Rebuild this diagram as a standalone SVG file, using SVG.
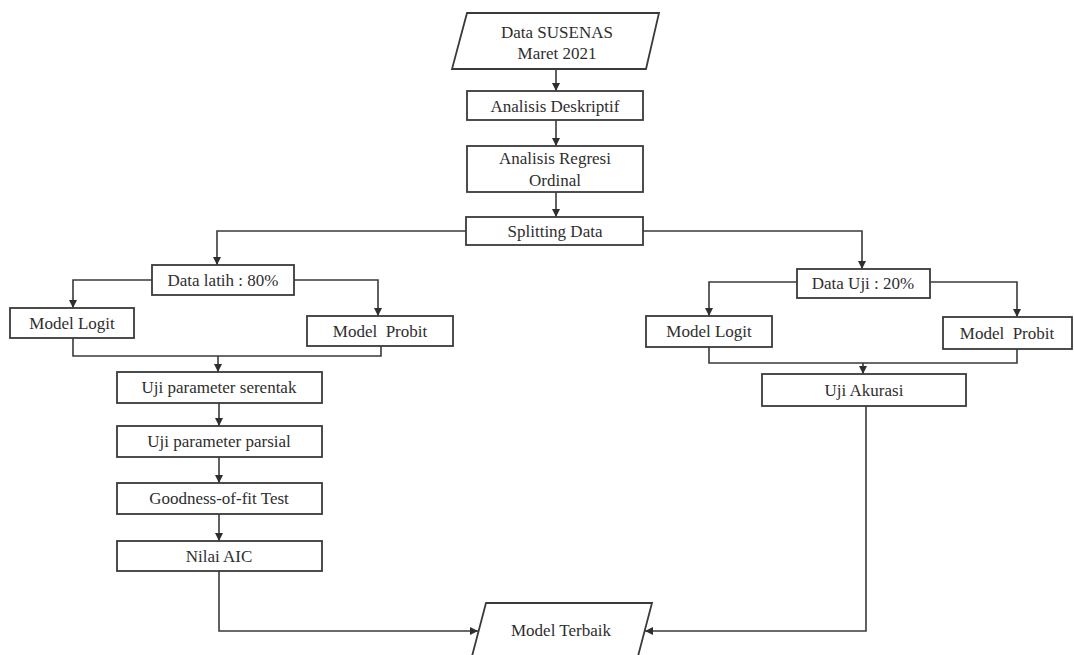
<svg xmlns="http://www.w3.org/2000/svg" width="1074" height="655" viewBox="0 0 1074 655">
<style>
.box{fill:#fff;stroke:#3a3a3a;stroke-width:1.8}
.t{font-family:'Liberation Serif','Times New Roman',Times,'DejaVu Serif',serif;font-size:17px;fill:#2e2e2e;text-anchor:middle}
.c{fill:none;stroke:#3a3a3a;stroke-width:1.6}
</style>
<defs>
<marker id="ah" markerUnits="userSpaceOnUse" markerWidth="8" markerHeight="8" refX="8" refY="4" orient="auto">
<path d="M0,0 L8,4 L0,8 z" fill="#2e2e2e"/>
</marker>
</defs>
<rect width="1074" height="655" fill="#fff"/>
<g id="connectors">
<path class="c" d="M556,69 V91" marker-end="url(#ah)"/>
<path class="c" d="M556,120 V146" marker-end="url(#ah)"/>
<path class="c" d="M556,192 V217" marker-end="url(#ah)"/>
<path class="c" d="M466,231 H217 V265" marker-end="url(#ah)"/>
<path class="c" d="M643,231 H862 V269" marker-end="url(#ah)"/>
<path class="c" d="M152,280 H73 V308" marker-end="url(#ah)"/>
<path class="c" d="M294,280 H378 V316" marker-end="url(#ah)"/>
<path class="c" d="M73,338 V356 H381 V346"/>
<path class="c" d="M218,356 V372" marker-end="url(#ah)"/>
<path class="c" d="M219,403 V426" marker-end="url(#ah)"/>
<path class="c" d="M219,457 V483" marker-end="url(#ah)"/>
<path class="c" d="M219,514 V541" marker-end="url(#ah)"/>
<path class="c" d="M219,571 V631 H478" marker-end="url(#ah)"/>
<path class="c" d="M797,282 H709 V316" marker-end="url(#ah)"/>
<path class="c" d="M930,282 H1017 V317" marker-end="url(#ah)"/>
<path class="c" d="M709,347 V363 H1017 V349"/>
<path class="c" d="M863,363 V374" marker-end="url(#ah)"/>
<path class="c" d="M866,406 V631 H645" marker-end="url(#ah)"/>
</g>
<g id="data-susenas">
<polygon class="box" points="467,13 659,13 646,69 452,69"/>
<text class="t" x="557" y="38">Data SUSENAS</text>
<text class="t" x="557" y="59">Maret 2021</text>
</g>
<g id="analisis-deskriptif">
<rect class="box" x="467" y="91" width="176" height="29"/>
<text class="t" x="555" y="112">Analisis Deskriptif</text>
</g>
<g id="analisis-regresi">
<rect class="box" x="467" y="146" width="176" height="46"/>
<text class="t" x="555" y="164">Analisis Regresi</text>
<text class="t" x="555" y="186">Ordinal</text>
</g>
<g id="splitting-data">
<rect class="box" x="466" y="217" width="177" height="28"/>
<text class="t" x="555" y="237">Splitting Data</text>
</g>
<g id="data-latih">
<rect class="box" x="152" y="265" width="142" height="30"/>
<text class="t" x="223" y="286">Data latih : 80%</text>
</g>
<g id="model-logit-latih">
<rect class="box" x="10" y="308" width="124" height="30"/>
<text class="t" x="72" y="329">Model Logit</text>
</g>
<g id="model-probit-latih">
<rect class="box" x="307" y="316" width="146" height="30"/>
<text class="t" x="380" y="337" xml:space="preserve">Model  Probit</text>
</g>
<g id="uji-serentak">
<rect class="box" x="117" y="372" width="205" height="31"/>
<text class="t" x="219" y="393">Uji parameter serentak</text>
</g>
<g id="uji-parsial">
<rect class="box" x="117" y="426" width="205" height="31"/>
<text class="t" x="219" y="447">Uji parameter parsial</text>
</g>
<g id="goodness">
<rect class="box" x="117" y="483" width="205" height="31"/>
<text class="t" x="219" y="504">Goodness-of-fit Test</text>
</g>
<g id="nilai-aic">
<rect class="box" x="117" y="541" width="205" height="30"/>
<text class="t" x="219" y="562">Nilai AIC</text>
</g>
<g id="data-uji">
<rect class="box" x="797" y="269" width="133" height="29"/>
<text class="t" x="863" y="289">Data Uji : 20%</text>
</g>
<g id="model-logit-uji">
<rect class="box" x="646" y="316" width="126" height="31"/>
<text class="t" x="709" y="337">Model Logit</text>
</g>
<g id="model-probit-uji">
<rect class="box" x="943" y="317" width="129" height="32"/>
<text class="t" x="1007" y="339" xml:space="preserve">Model  Probit</text>
</g>
<g id="uji-akurasi">
<rect class="box" x="762" y="374" width="204" height="32"/>
<text class="t" x="864" y="396">Uji Akurasi</text>
</g>
<g id="model-terbaik">
<polygon class="box" points="486,603 652,603 637,660 471,660"/>
<text class="t" x="561" y="636">Model Terbaik</text>
</g>
</svg>
